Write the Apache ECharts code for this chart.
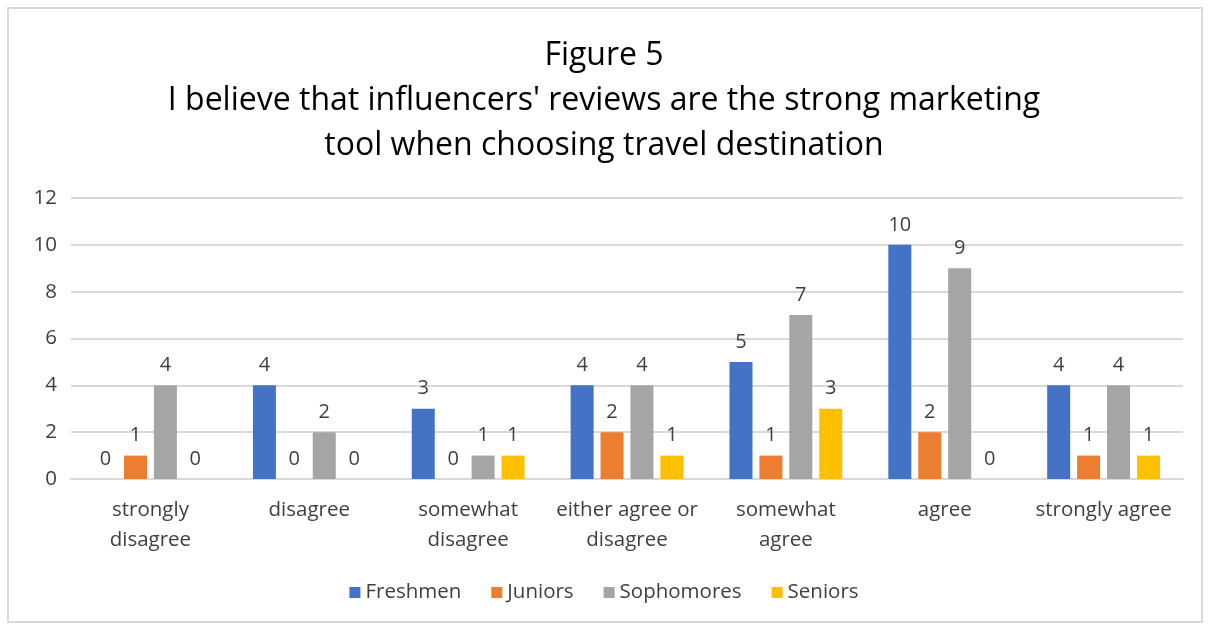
<!DOCTYPE html>
<html>
<head>
<meta charset="UTF-8">
<title>Figure 5</title>
<script src="https://cdn.jsdelivr.net/npm/echarts@6/dist/echarts.min.js"></script>
<style>
  html, body { margin: 0; padding: 0; background: #fff; }
  #frame { position: absolute; left: 7px; top: 7px; width: 1192px; height: 612px; border: 2px solid #d9d9d9; }
  #chart { position: absolute; left: 0; top: 0; width: 1208px; height: 628px; }
</style>
</head>
<body>
<div id="frame"></div>
<div id="chart"></div>
<script>
// categories and values
var categories = ['strongly\ndisagree', 'disagree', 'somewhat\ndisagree', 'either agree or\ndisagree', 'somewhat\nagree', 'agree', 'strongly agree'];
var seriesNames = ['Freshmen', 'Juniors', 'Sophomores', 'Seniors'];
var freshmen = [0, 4, 3, 4, 5, 10, 4];
var juniors = [1, 0, 0, 2, 1, 2, 1];
var sophomores = [4, 2, 1, 4, 7, 9, 4];
var seniors = [0, 0, 1, 1, 3, 0, 1];
var colors = ['#4472C4', '#ED7D31', '#A5A5A5', '#FFC000'];

var font = "'Open Sans', 'DejaVu Sans', sans-serif";
var values = [freshmen, juniors, sophomores, seniors];

var chart = echarts.init(document.getElementById('chart'));

var series = seriesNames.map(function (name, i) {
	return {
		name: name,
		type: 'bar',
		data: values[i],
		barGap: '30%',
		barCategoryGap: '29%',
		itemStyle: { color: colors[i] },
		label: {
			show: true,
			position: 'top',
			distance: 10,
			color: '#404040',
			fontSize: 20,
			fontFamily: font
		}
	};
});

chart.setOption({
	animation: false,
	color: colors,
	title: {
		text: 'Figure 5\nI believe that influencers\' reviews are the strong marketing\ntool when choosing travel destination',
		left: 'center',
		top: 28,
		textStyle: {
			fontSize: 32,
			fontWeight: 'normal',
			color: '#000',
			lineHeight: 45,
			fontFamily: font
		}
	},
	grid: {
		left: 71,
		right: 25,
		top: 198,
		bottom: 149,
		containLabel: false
	},
	legend: {
		bottom: 20,
		left: 'center',
		itemWidth: 11,
		itemHeight: 11,
		itemGap: 30,
		icon: 'rect',
		textStyle: { fontSize: 20.5, color: '#404040', fontFamily: font }
	},
	xAxis: {
		type: 'category',
		data: categories,
		axisLine: { lineStyle: { color: '#d9d9d9', width: 2 } },
		axisTick: { show: false },
		axisLabel: {
			color: '#404040',
			fontSize: 20.5,
			lineHeight: 30,
			margin: 16,
			interval: 0,
			fontFamily: font
		}
	},
	yAxis: {
		type: 'value',
		min: 0,
		max: 12,
		interval: 2,
		axisLine: { show: false },
		axisTick: { show: false },
		splitLine: { lineStyle: { color: '#d9d9d9', width: 2 } },
		axisLabel: {
			color: '#404040',
			fontSize: 20.5,
			margin: 14,
			fontFamily: font
		}
	},
	series: series
});
</script>
</body>
</html>
